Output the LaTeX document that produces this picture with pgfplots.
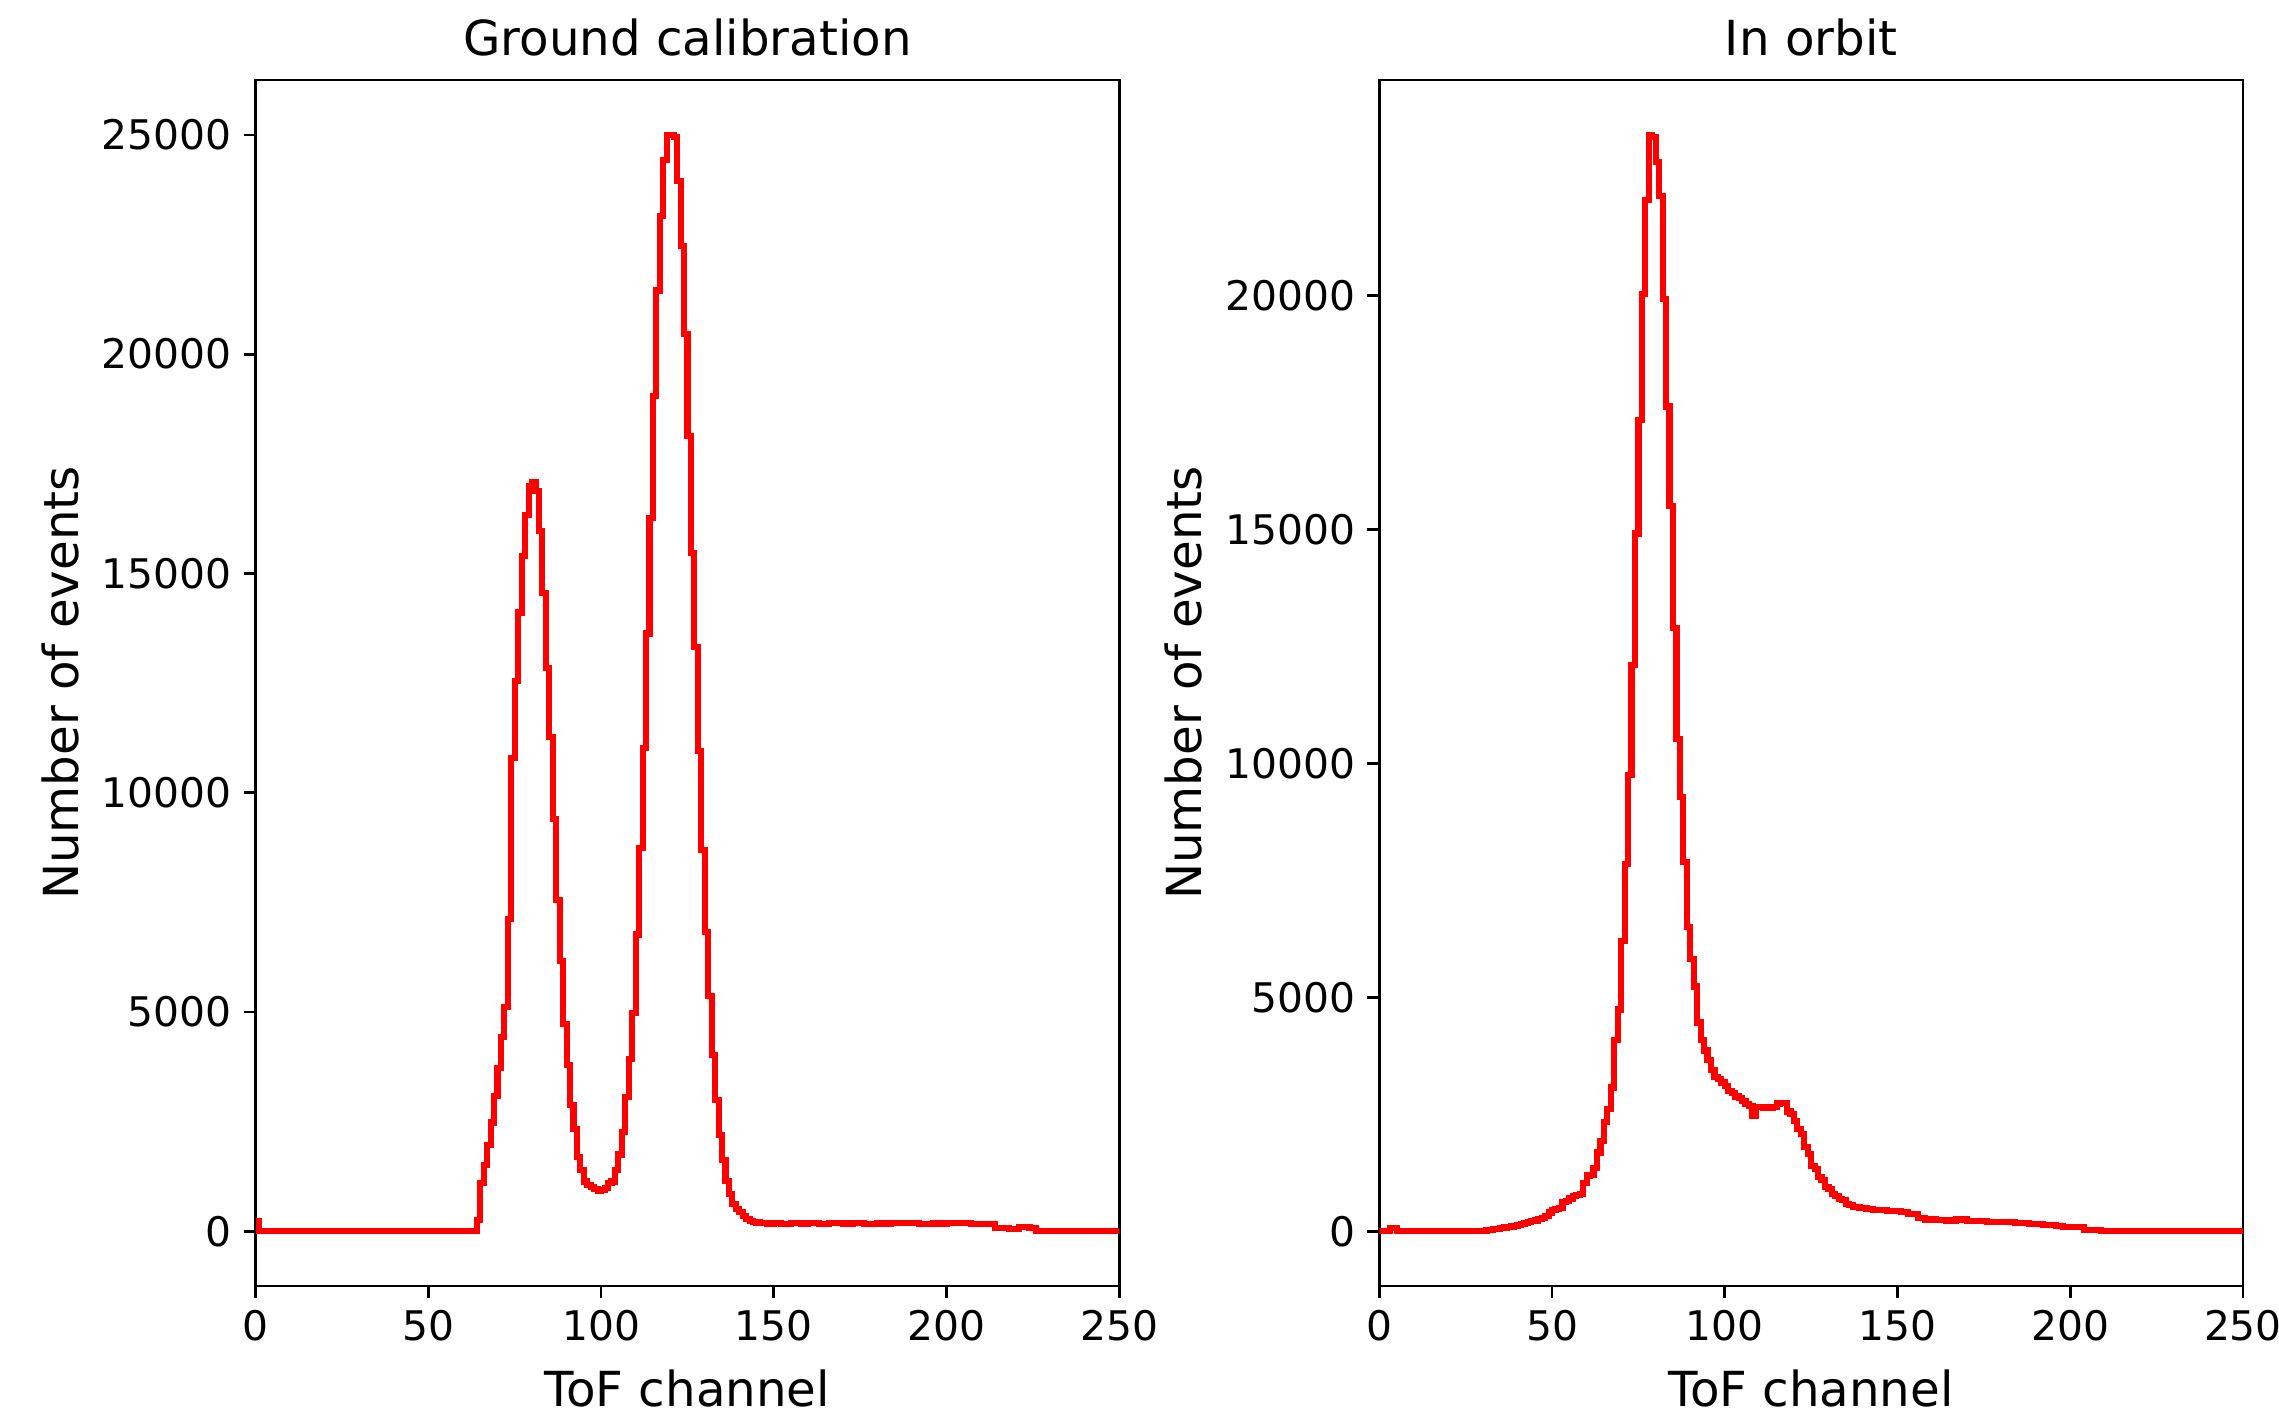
\documentclass[border=0pt]{standalone}
\usepackage{pgfplots}
\pgfplotsset{compat=1.18}
\usepackage{fontspec}
\setmainfont{DejaVu Sans}

\pgfplotsset{
  hist/.style={
    scale only axis,
    width=254pt, height=354.7pt,
    anchor=south west,
    xmin=0, xmax=250,
    xtick={0,50,100,150,200,250},
    axis line style={line width=0.8pt},
    every tick/.style={black, line width=0.8pt},
    tick align=outside,
    major tick length=3.5pt,
    xtick pos=bottom, ytick pos=left,
    scaled ticks=false,
    /pgf/number format/assume math mode=true,
    /pgf/number format/1000 sep={},
    tick label style={font=\fontsize{12}{14}\selectfont},
    title style={font=\fontsize{14.2}{17}\selectfont, at={(axis description cs:0.5,1.018)}, anchor=center},
    every axis x label/.style={font=\fontsize{14.2}{17}\selectfont, at={(axis description cs:0.5,-0.0846)}, anchor=center},
    every axis y label/.style={font=\fontsize{14.2}{17}\selectfont, at={(axis description cs:-0.2264,0.5)}, anchor=center, rotate=90},
    xlabel={ToF channel},
    ylabel={Number of events},
  },
}

\begin{document}
\begin{tikzpicture}
\useasboundingbox (0,0) rectangle (670.3pt,415.6pt);

% ground calibration
\begin{axis}[hist, at={(75.2pt,37.35pt)},
    ymin=-1250, ymax=26250,
    ytick={0,5000,10000,15000,20000,25000},
    title={Ground calibration}]
\addplot[const plot mark left, red, line width=1.8pt] coordinates {
(0,230)(1,0)(64,260)(65,1100)(66,1520)(67,1975)(68,2480)(69,3090)(70,3720)
(71,4420)(72,5120)(73,7110)(74,10785)(75,12550)(76,14110)(77,15400)(78,16340)
(79,16990)(80,17080)(81,16870)(82,15960)(83,14560)(84,12850)(85,11275)(86,9390)
(87,7550)(88,6170)(89,4720)(90,3790)(91,2880)(92,2325)(93,1695)(94,1400)
(95,1135)(96,1050)(97,1000)(98,960)(99,925)(100,940)(101,980)(102,1100)
(103,1135)(104,1400)(105,1750)(106,2270)(107,3060)(108,3930)(109,4980)
(110,6765)(111,8740)(112,11010)(113,13630)(114,16260)(115,19050)(116,21450)
(117,23160)(118,24420)(119,25000)(120,25000)(121,24950)(122,23950)(123,22460)
(124,20450)(125,18140)(126,15470)(127,13320)(128,10960)(129,8690)(130,6820)
(131,5370)(132,4020)(133,3000)(134,2200)(135,1630)(136,1150)(137,850)
(138,625)(139,500)(140,435)(141,350)(142,283)(143,240)(144,215)(145,200)
(146,185)(148,175)(150,180)(152,170)(155,180)(158,175)(160,185)(163,170)
(166,180)(170,175)(173,185)(176,170)(180,175)(184,185)(188,180)(192,170)
(196,175)(200,190)(204,180)(207,170)(210,160)(214,80)(218,60)(221,95)
(224,70)(226,0)(250,0)
};
\end{axis}

% in orbit
\begin{axis}[hist, at={(405.7pt,37.35pt)},
    ymin=-1172, ymax=24608,
    ytick={0,5000,10000,15000,20000},
    title={In orbit}]
\addplot[const plot mark left, red, line width=1.8pt] coordinates {
(0,0)(3,60)(5,0)(30,10)(31,20)(32,30)(33,40)(34,50)(35,60)(36,80)(37,90)
(38,100)(39,115)(40,130)(41,150)(42,170)(43,190)(44,210)(45,230)(46,260)
(47,290)(48,330)(49,400)(50,455)(51,470)(52,488)(53,618)(54,650)(55,700)
(56,750)(57,782)(58,790)(59,1028)(60,1191)(61,1210)(62,1355)(63,1682)
(64,1928)(65,2337)(66,2615)(67,3072)(68,4089)(69,4739)(70,6212)(71,7847)
(72,9746)(73,12102)(74,14915)(75,17335)(76,20033)(77,22044)(78,23435)
(79,23400)(80,22863)(81,22127)(82,19919)(83,17630)(84,15503)(85,12886)
(86,10515)(87,9286)(88,7897)(89,6507)(90,5819)(91,5231)(92,4462)(93,4089)
(94,3862)(95,3660)(96,3450)(97,3300)(98,3260)(99,3180)(100,3100)(101,3000)
(102,2950)(103,2880)(104,2850)(105,2780)(106,2720)(107,2680)(108,2460)
(109,2650)(110,2660)(111,2640)(112,2650)(113,2640)(114,2660)(115,2730)
(116,2750)(117,2740)(118,2560)(119,2500)(120,2360)(121,2180)(122,2070)
(123,1800)(124,1650)(125,1400)(126,1330)(127,1150)(128,1100)(129,940)
(130,900)(131,800)(132,760)(133,690)(134,660)(135,580)(136,560)(137,520)
(138,510)(139,500)(140,490)(141,470)(143,460)(145,450)(147,440)(149,430)
(151,410)(153,370)(156,280)(158,250)(161,240)(164,230)(167,250)(170,220)
(173,210)(176,200)(180,190)(184,170)(188,160)(192,140)(196,120)(198,85)
(204,30)(209,0)(250,0)
};
\end{axis}
\end{tikzpicture}
\end{document}
